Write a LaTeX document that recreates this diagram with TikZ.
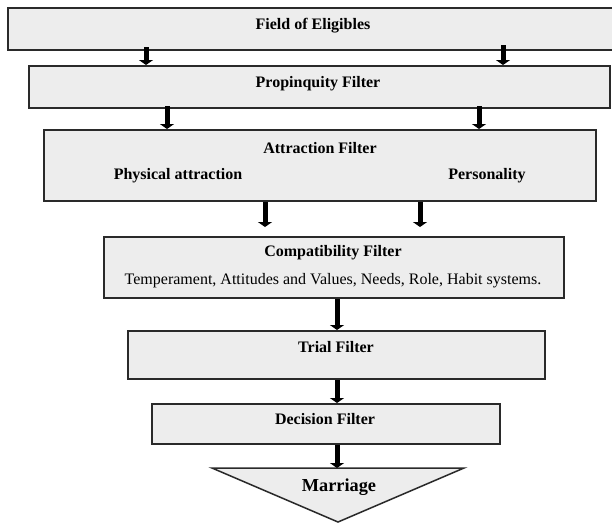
\documentclass[tikz,border=0pt]{standalone}
\usepackage{fontspec}
\setmainfont{Liberation Serif}
\usetikzlibrary{arrows.meta}
\definecolor{boxgray}{HTML}{EDEDED}
\definecolor{edgegray}{HTML}{2A2A2A}
\begin{document}
\begin{tikzpicture}[x=1pt,y=-1pt,
  box/.style={draw=edgegray,line width=2.2pt,fill=boxgray,inner sep=0pt,anchor=north west},
  ttl/.style={font=\fontsize{16}{18}\selectfont\bfseries,inner sep=0pt},
  txt/.style={font=\fontsize{16}{18}\selectfont,inner sep=0pt},
  arr/.style={line width=5pt,-{Triangle[width=14pt,length=5pt]}}]
\useasboundingbox (0,0) rectangle (612,523);
\fill[white] (0,0) rectangle (612,523);
% boxes
\node[box,minimum width=607pt,minimum height=42pt] (b1) at (7,7) {};
\node[box,minimum width=581pt,minimum height=42pt] (b2) at (28,65) {};
\node[box,minimum width=552pt,minimum height=71pt] (b3) at (43,129) {};
\node[box,minimum width=460pt,minimum height=61pt] (b4) at (103,236) {};
\node[box,minimum width=417pt,minimum height=48pt] (b5) at (127,330) {};
\node[box,minimum width=348pt,minimum height=40pt] (b6) at (151,403) {};
% triangle
\coordinate (tl) at (212,468);
\coordinate (tr) at (464,468);
\coordinate (tb) at (338,522);
\filldraw[fill=boxgray,draw=edgegray,line width=1.5pt,line join=miter] (tl) -- (tr) -- (tb) -- cycle;
% texts
\node[ttl] (t1) at (313,26) {Field of Eligibles};
\node[ttl] (t2) at (318,84) {Propinquity Filter};
\node[ttl] (t3) at (320,148) {Attraction Filter};
\node[ttl] (t3a) at (178,176) {Physical attraction};
\node[ttl] (t3b) at (487,176) {Personality};
\node[ttl] (t4) at (333,253) {Compatibility Filter};
\node[txt] (t4a) at (333,281) {Temperament, Attitudes and Values, Needs, Role, Habit systems.};
\node[ttl] (t5) at (336,347) {Trial Filter};
\node[ttl] (t6) at (325,419) {Decision Filter};
\node[font=\fontsize{18.3}{21}\selectfont\bfseries,inner sep=0pt] (t7) at (339,487) {Marriage};
% arrow columns
\coordinate (c1) at (146,0);
\coordinate (c2) at (503,0);
\coordinate (c3) at (167,0);
\coordinate (c4) at (479,0);
\coordinate (c5) at (265,0);
\coordinate (c6) at (420,0);
\coordinate (c7) at (337,0);
\draw[arr] ([yshift=4pt]b1.south -| c1) -- (b2.north -| c1);
\draw[arr] ([yshift=6pt]b1.south -| c2) -- (b2.north -| c2);
\draw[arr] ([yshift=3pt]b2.south -| c3) -- (b3.north -| c3);
\draw[arr] ([yshift=3pt]b2.south -| c4) -- (b3.north -| c4);
\draw[arr,shorten >=9pt] (b3.south -| c5) -- (b4.north -| c5);
\draw[arr,shorten >=9pt] (b3.south -| c6) -- (b4.north -| c6);
\draw[arr] (b4.south -| c7) -- (b5.north -| c7);
\draw[arr] (b5.south -| c7) -- (b6.north -| c7);
\draw[arr] (b6.south -| c7) -- (tl -| c7);
\end{tikzpicture}
\end{document}
